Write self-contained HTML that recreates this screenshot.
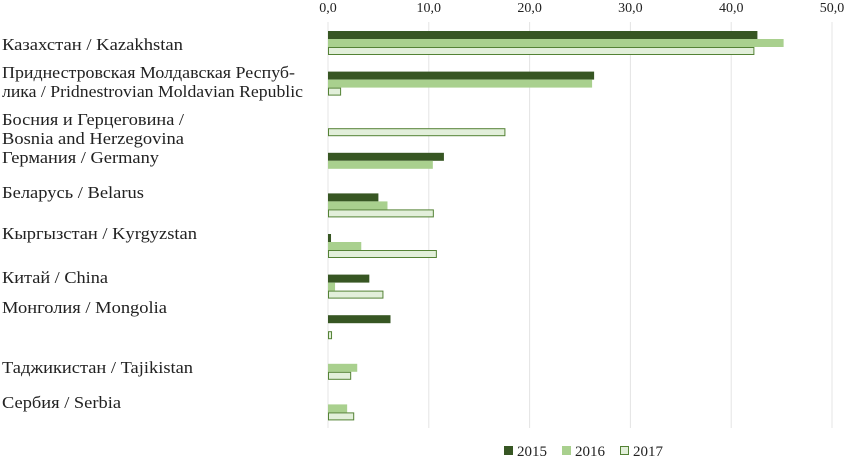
<!DOCTYPE html>
<html><head><meta charset="utf-8"><style>
body{margin:0;background:#fff;width:845px;height:458px;overflow:hidden;font-family:"Liberation Serif",serif;}
svg text{font-family:"Liberation Serif",serif;fill:#222;}
</style></head><body>
<svg id="chart" width="845" height="458"></svg>
<script>
const categories=["Казахстан / Kazakhstan","Приднестровская Молдавская Респуб-|лика / Pridnestrovian Moldavian Republic","Босния и Герцеговина /|Bosnia and Herzegovina","Германия / Germany","Беларусь / Belarus","Кыргызстан / Kyrgyzstan","Китай / China","Монголия / Mongolia","Таджикистан / Tajikistan","Сербия / Serbia"];
const s2015=[42.6,26.4,0,11.5,5.0,0.3,4.1,6.2,0,0];
const s2016=[45.2,26.2,0,10.4,5.9,3.3,0.7,0,2.9,1.9];
const s2017=[42.3,1.3,17.6,0,10.5,10.8,5.5,0.4,2.3,2.6];
const ticks=[0,10,20,30,40,50];
const years=["2015","2016","2017"];
// label layout (pixel positions from reference)
const labelY=[[50],[78,97],[125,144],[163],[198],[239],[283],[313],[373],[408]];
const labelW=[[181],[293,301],[182,182],[157],[142],[195],[106],[165],[191],[119]];
const NS="http://www.w3.org/2000/svg";
const svg=document.getElementById('chart');
const x0=328,pxPer=10.08,plotTop=22,band=40.6,barH=8;
const xs=v=>x0+v*pxPer;
function el(t,a){const e=document.createElementNS(NS,t);for(const k in a)e.setAttribute(k,a[k]);svg.appendChild(e);return e;}
ticks.forEach(t=>{
 const g=el('line',{x1:xs(t),x2:xs(t),y1:plotTop,y2:428,stroke:'#e4e4e4','stroke-width':1});
 
 
 const l=el('text',{x:xs(t),y:12,'text-anchor':'middle','font-size':14});
 l.textContent=t.toFixed(1).replace('.',',');
 
 
});
const styles=[{fill:'#375623',stroke:'none'},{fill:'#a9d08e',stroke:'none'},{fill:'#e2efda',stroke:'#548235'}];
const series=[s2015,s2016,s2017];
categories.forEach((c,i)=>{
 const by=plotTop+i*band;
 const lines=c.split('|');
 lines.forEach((ln,j)=>{
  const t=el('text',{x:2,y:labelY[i][j],'font-size':17,textLength:labelW[i][j],lengthAdjust:'spacingAndGlyphs'});
  t.textContent=ln;
  
  
 });
 series.forEach((s,k)=>{
  const v=s[i]; if(!v) return;
  const st=styles[k];
  const o=st.stroke!=='none'?0.5:0;
  const r=el('rect',{x:xs(0)+o,y:by+9+k*barH+o,width:Math.max(v*pxPer-2*o,1),height:barH-2*o,fill:st.fill,stroke:st.stroke,'stroke-width':1});
  
  
 });
});
const lx=[504,562,620];
years.forEach((y,k)=>{
 const st=styles[k];
 const r=el('rect',{x:lx[k]+0.5,y:446.5,width:8,height:8,fill:st.fill,stroke:st.stroke==='none'?st.fill:st.stroke});
 
 
 const t=el('text',{x:lx[k]+13,y:456,'font-size':15});
 t.textContent=y;
 
 
});
</script>
</body></html>
